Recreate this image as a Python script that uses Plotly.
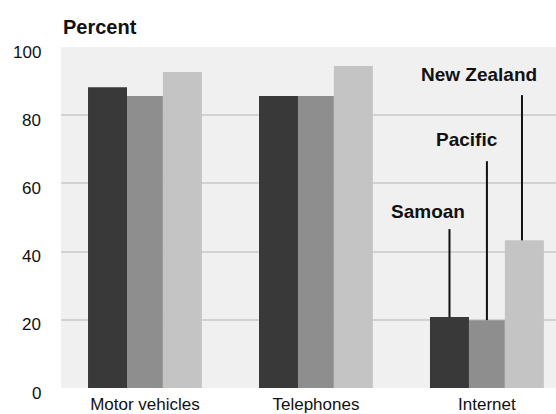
import plotly.graph_objects as go

categories = ["Motor vehicles", "Telephones", "Internet"]
series_names = ["Samoan", "Pacific", "New Zealand"]
samoan = [88.2, 85.6, 20.8]
pacific = [85.6, 85.6, 19.9]
new_zealand = [92.7, 94.4, 43.3]
y_ticks = [0, 20, 40, 60, 80, 100]
y_tick_labels = ["0", "20", "40", "60", "80", "100"]

colors = ["#393939", "#8e8e8e", "#c4c4c4"]
offsets = [-0.333, -0.105, 0.105]
widths = [0.228, 0.21, 0.228]
FONT = "Liberation Sans, Arial, sans-serif"

xs = list(range(len(categories)))
fig = go.Figure()
for vals, col, off, w in zip([samoan, pacific, new_zealand], colors, offsets, widths):
    fig.add_trace(go.Bar(x=xs, y=vals, marker=dict(color=col, line=dict(width=0)),
                         offset=off, width=w, showlegend=False, hoverinfo="skip"))

# series labels with leader lines on the Internet group
label_cfg = [  # (text x offset, text y, line top y, line x offset)
    (-0.345, 51.9, 46.6, -0.219),
    (-0.117, 73.0, 66.5, 0.0),
    (-0.047, 91.8, 85.9, 0.205),
]
gi = 2
series_vals = [samoan, pacific, new_zealand]
annotations = []
shapes = []
for name, vals, (tx, ty, ltop, lx) in zip(series_names, series_vals, label_cfg):
    annotations.append(dict(x=gi + tx, y=ty, xref="x", yref="y", text="<b>%s</b>" % name,
                            showarrow=False, font=dict(family=FONT, size=19, color="#111111"),
                            xanchor="center", yanchor="middle"))
    shapes.append(dict(type="line", xref="x", yref="y", x0=gi + lx, x1=gi + lx,
                       y0=vals[gi], y1=ltop, line=dict(color="#111111", width=2), layer="above"))

for v, t in zip(y_ticks, y_tick_labels):
    annotations.append(dict(x=0, y=v, xref="paper", yref="y", text=t, showarrow=False,
                            xanchor="right", yanchor="middle", xshift=-18, yshift=-5,
                            font=dict(family=FONT, size=17, color="#111111")))

annotations.append(dict(x=0, y=1, xref="paper", yref="paper", text="<b>Percent</b>",
                        showarrow=False, xanchor="left", yanchor="bottom", yshift=7,
                        font=dict(family=FONT, size=20, color="#111111")))

fig.update_layout(
    width=556, height=414,
    margin=dict(l=61, r=0, t=47, b=26),
    paper_bgcolor="white", plot_bgcolor="#f0f0f0",
    barmode="overlay",
    annotations=annotations, shapes=shapes,
    xaxis=dict(range=[-0.491, 2.404], tickvals=xs, ticktext=categories, showgrid=False,
               zeroline=False, showline=False, ticks="", ticklabelstandoff=4,
               tickfont=dict(family=FONT, size=17, color="#111111"), fixedrange=True),
    yaxis=dict(range=[0, 100], tickvals=[20, 40, 60, 80], showticklabels=False,
               showgrid=True, gridcolor="#d2d2d2", gridwidth=1.5, zeroline=False,
               showline=False, ticks="", fixedrange=True),
)
fig.write_html("out.html", config={"displayModeBar": False},
               post_script="document.body.style.margin='0';document.body.style.overflow='hidden';")
